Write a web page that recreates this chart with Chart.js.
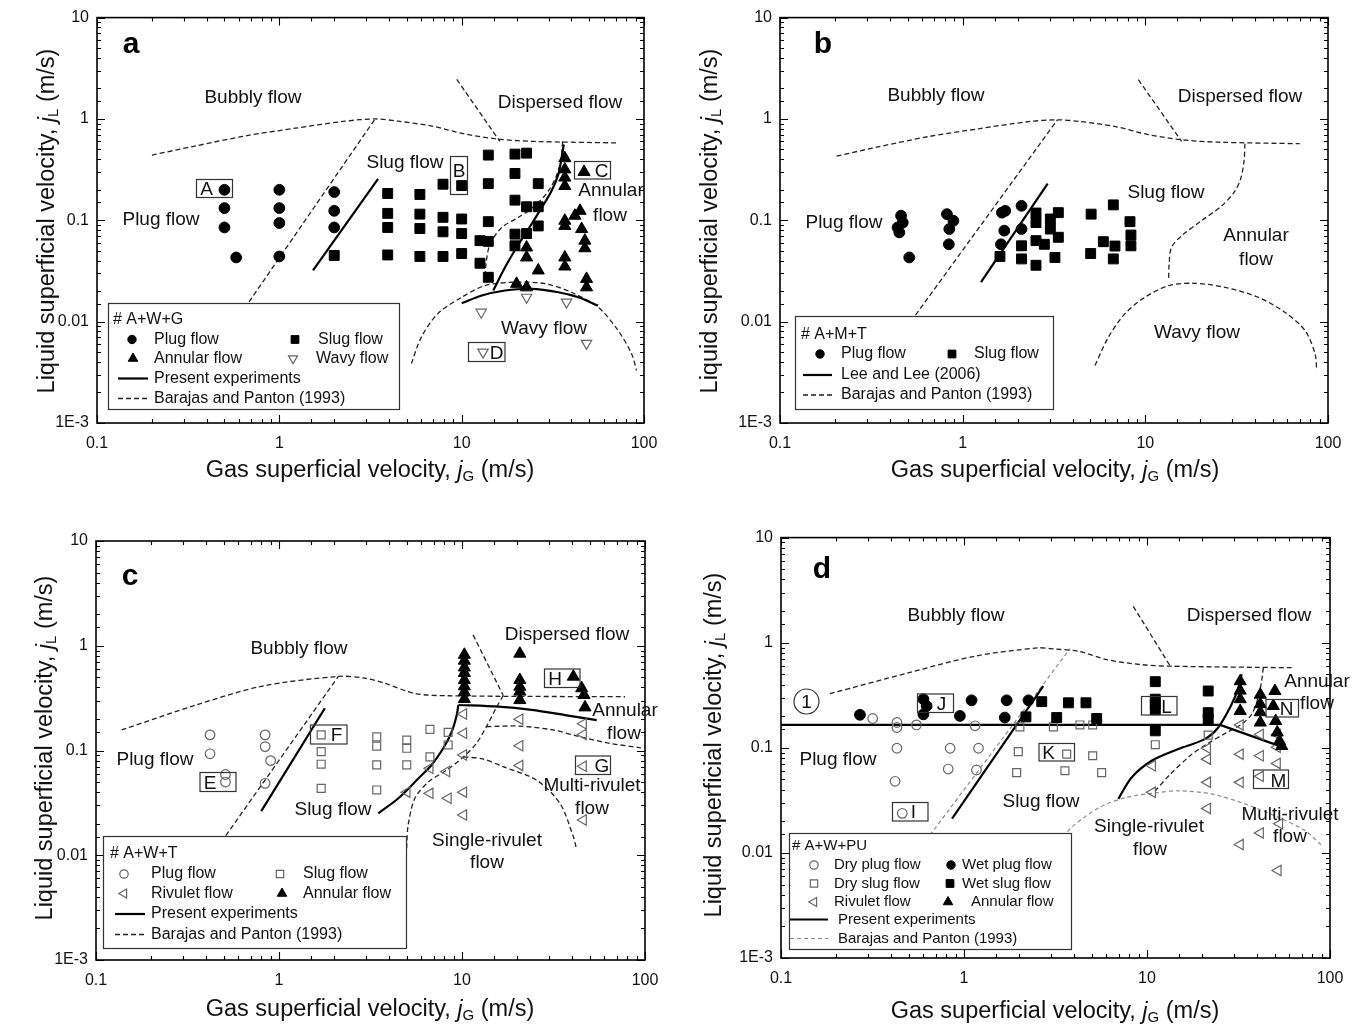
<!DOCTYPE html>
<html>
<head>
<meta charset="utf-8">
<title>Flow pattern maps</title>
<script src="https://cdn.jsdelivr.net/npm/chart.js@4.4.1/dist/chart.umd.min.js"></script>
<style>
  html, body { margin: 0; padding: 0; background: #fff; }
  #page { position: relative; width: 1359px; height: 1030px; overflow: hidden; background: #fff; }
  #page canvas { position: absolute; }
</style>
</head>
<body>
<div id="page">
  <canvas id="pa" width="680" height="505" style="left:0px;top:0px"></canvas>
  <canvas id="pb" width="679" height="505" style="left:680px;top:0px"></canvas>
  <canvas id="pc" width="680" height="510" style="left:0px;top:520px"></canvas>
  <canvas id="pd" width="679" height="510" style="left:680px;top:520px"></canvas>
</div>
<script>
const FONT = "'Liberation Sans', Arial, Helvetica, sans-serif";

// axis ticks
const xTickValues = [0.1, 1, 10, 100];
const xTickLabels = ['0.1', '1', '10', '100'];
const yTickValues = [0.001, 0.01, 0.1, 1, 10];
const yTickLabels = ['1E-3', '0.01', '0.1', '1', '10'];

// ---- panel a : A+W+G  [jG, jL]
const aPlug = [[0.5, 0.2], [0.5, 0.132], [0.5, 0.085], [0.58, 0.043], [1, 0.2], [1, 0.132], [1, 0.094], [1, 0.044],
  [2, 0.19], [2, 0.124], [2, 0.085]];
const aSlug = [[2, 0.045], [3.93, 0.184], [3.93, 0.117], [3.93, 0.085], [3.93, 0.0455], [5.9, 0.18], [5.9, 0.115],
  [5.9, 0.083], [5.9, 0.044], [7.9, 0.227], [7.9, 0.107], [7.9, 0.077], [7.9, 0.044], [10, 0.22], [10, 0.103],
  [10, 0.074], [10, 0.047], [12.6, 0.063], [12.6, 0.0377], [14, 0.44], [14, 0.23], [14, 0.097], [14, 0.062],
  [14, 0.0274], [19.6, 0.45], [19.6, 0.29], [19.6, 0.158], [19.6, 0.073], [19.6, 0.056], [22.7, 0.46],
  [22.7, 0.136], [22.7, 0.074], [26.3, 0.23], [26.3, 0.136], [26.3, 0.088]];
const aAnnular = [[22.7, 0.054], [22.7, 0.043], [20, 0.0236], [22.7, 0.0218], [26.3, 0.032], [36.8, 0.41],
  [36.8, 0.318], [36.8, 0.264], [36.8, 0.218], [36.8, 0.099], [36.8, 0.088], [41.8, 0.111], [44.6, 0.124],
  [45.5, 0.082], [47.4, 0.063], [47.4, 0.053], [36.8, 0.043], [36.8, 0.035], [48.4, 0.0264], [48.4, 0.0218],
  [46.9, 0.30]];
const aWavy = [[12.8, 0.0124], [22.7, 0.0174], [37.6, 0.0156], [48.4, 0.0061], [13.1, 0.0050]];
const aExpSlug = [[1.53, 0.032], [3.48, 0.256]];
const aExpAnnular = [[14.9, 0.0203], [17.3, 0.0344], [20.5, 0.058], [24.2, 0.092], [27.5, 0.134], [31.1, 0.195],
  [33.9, 0.284], [35.3, 0.41], [36.3, 0.56]];
const aExpWavy = [[10, 0.0152], [12.9, 0.0181], [17.3, 0.0203], [24.2, 0.0211], [33.9, 0.0195], [43.6, 0.0174],
  [56, 0.0144]];
const aBPBubbly = [[0.2, 0.44], [0.344, 0.54], [0.65, 0.68], [1.22, 0.81], [2.29, 0.95], [3.35, 1.0], [4.48, 0.95],
  [6.87, 0.85], [10.4, 0.71], [16.2, 0.63], [25, 0.60], [72, 0.58]];
const aBPPlug = [[0.574, 0.01], [3.35, 1.0]];
const aBPDispersed = [[9.4, 2.46], [16.2, 0.60]];
const aBPAnnular = [[35.8, 0.60], [35.1, 0.41], [33.2, 0.28], [29.9, 0.195], [25.2, 0.139], [20.5, 0.107],
  [16.6, 0.085], [14.3, 0.058], [13.6, 0.037], [13.4, 0.0245]];
const aBPWavy = [[5.3, 0.00386], [6.0, 0.0070], [7.4, 0.012], [10, 0.0174], [13.4, 0.0227], [19.6, 0.0245],
  [28.7, 0.0237], [40, 0.0195], [56, 0.0139], [72, 0.0082], [85.6, 0.0048], [91, 0.0033]];

// ---- panel b : A+M+T
const bPlug = [[0.46, 0.111], [0.47, 0.095], [0.44, 0.085], [0.45, 0.076], [0.51, 0.043], [0.82, 0.115],
  [0.89, 0.099], [0.845, 0.082], [0.84, 0.058], [1.64, 0.119], [1.71, 0.124], [2.1, 0.139], [1.69, 0.079],
  [2.1, 0.082], [1.62, 0.058]];
const bSlug = [[1.6, 0.044], [2.1, 0.056], [2.1, 0.0416], [2.52, 0.118], [2.52, 0.095], [2.52, 0.063], [2.8, 0.058],
  [2.52, 0.036], [3.02, 0.103], [3.02, 0.082], [3.2, 0.043], [3.34, 0.119], [3.34, 0.068], [5.05, 0.115],
  [6.68, 0.142], [5.89, 0.0615], [5.02, 0.047], [6.82, 0.0557], [6.68, 0.0416], [8.24, 0.097], [8.34, 0.0715],
  [8.34, 0.056]];
const bLeeLee = [[1.26, 0.0245], [2.92, 0.23]];
const bBPBubbly = [[0.204, 0.43], [0.344, 0.53], [0.65, 0.67], [1.22, 0.80], [2.29, 0.94], [3.3, 0.98],
  [4.48, 0.94], [6.87, 0.84], [10.4, 0.70], [16.2, 0.62], [25, 0.59], [70, 0.57]];
const bBPPlug = [[0.52, 0.01], [3.3, 0.98]];
const bBPDispersed = [[9.16, 2.44], [15.8, 0.60]];
const bBPAnnular = [[35.1, 0.57], [34.7, 0.385], [33.4, 0.264], [31, 0.195], [26.2, 0.139], [20.3, 0.099],
  [15.8, 0.0704], [13.9, 0.054], [13.5, 0.037], [13.4, 0.0254]];
const bBPWavy = [[5.3, 0.0037], [6.27, 0.0070], [7.74, 0.012], [9.96, 0.0174], [13.4, 0.0227], [18.7, 0.0239],
  [27.3, 0.0218], [41.5, 0.0174], [58, 0.0124], [74.8, 0.0082], [85, 0.0048], [86.7, 0.0033]];

// ---- panel c : A+W+T
const cPlug = [[0.42, 0.141], [0.42, 0.093], [0.51, 0.059], [0.51, 0.050], [0.84, 0.141], [0.84, 0.109],
  [0.90, 0.080], [0.84, 0.0486]];
const cSlug = [[1.70, 0.141], [1.70, 0.0975], [1.70, 0.074], [1.70, 0.0435], [3.42, 0.135], [3.42, 0.110],
  [3.42, 0.073], [3.42, 0.042], [4.99, 0.126], [4.99, 0.105], [4.99, 0.073], [6.68, 0.159], [6.68, 0.087],
  [8.4, 0.149], [8.4, 0.113]];
const cRivulet = [[5.0, 0.040], [6.68, 0.0676], [8.24, 0.063], [6.68, 0.039], [8.4, 0.035], [10.2, 0.223],
  [10.2, 0.146], [10.2, 0.0906], [10.2, 0.040], [10.2, 0.0242], [20.7, 0.199], [20.7, 0.111], [20.7, 0.072],
  [46, 0.18], [46, 0.142], [46, 0.0708], [46, 0.0217]];
const cAnnular = [[10.3, 0.82], [10.3, 0.72], [10.3, 0.62], [10.3, 0.55], [10.3, 0.47], [10.3, 0.41], [10.3, 0.36],
  [10.3, 0.31], [20.7, 0.84], [20.7, 0.471], [20.7, 0.406], [20.7, 0.365], [20.7, 0.303], [40.6, 0.507],
  [45.1, 0.393], [46.4, 0.339], [47, 0.258]];
const cExpSlug = [[0.80, 0.0264], [1.78, 0.253]];
const cExpRivulet = [[3.49, 0.0251], [4.49, 0.035], [5.77, 0.054], [6.82, 0.0728], [7.9, 0.105], [8.79, 0.151],
  [9.36, 0.218], [9.55, 0.272]];
const cExpAnnular = [[9.55, 0.272], [15.8, 0.262], [24, 0.244], [36.6, 0.218], [54.5, 0.195]];
const cBPBubbly = [[0.138, 0.157], [0.348, 0.27], [0.80, 0.41], [2.11, 0.51], [2.95, 0.49], [3.8, 0.437],
  [5.53, 0.35], [8.4, 0.333], [77.8, 0.326]];
const cBPPlug = [[0.43, 0.01], [2.11, 0.51]];
const cBPDispersed = [[11.5, 1.27], [16.8, 0.335]];
const cBPAnnular = [[16.8, 0.335], [15.5, 0.262], [13.6, 0.169], [12.0, 0.117], [10.2, 0.087], [8.24, 0.065],
  [6.55, 0.050], [5.53, 0.035], [5.08, 0.0195], [4.98, 0.0116]];
const cBPMulti = [[13.6, 0.169], [20.7, 0.171], [31.5, 0.157], [44.2, 0.135], [64.4, 0.117], [95, 0.106]];
const cBPSingle = [[10.2, 0.087], [13, 0.083], [16.8, 0.070], [25.6, 0.052], [34.4, 0.031], [40.6, 0.015],
  [42, 0.012]];

// ---- panel d : A+W+PU
const dDryPlug = [[0.317, 0.19], [0.43, 0.174], [0.43, 0.156], [0.55, 0.165], [0.43, 0.099], [0.42, 0.048],
  [0.84, 0.099], [0.82, 0.0628], [1.15, 0.162], [1.20, 0.099], [1.17, 0.0615], [0.46, 0.0238]];
const dWetPlug = [[0.27, 0.206], [0.60, 0.29], [0.625, 0.25], [0.60, 0.208], [0.95, 0.201], [1.10, 0.283],
  [1.71, 0.283], [1.67, 0.194], [2.25, 0.283]];
const dDrySlug = [[2.02, 0.158], [3.08, 0.158], [4.3, 0.165], [5.05, 0.165], [1.98, 0.092], [3.64, 0.087],
  [5.05, 0.084], [1.94, 0.058], [3.56, 0.0605], [5.65, 0.058], [11.1, 0.107], [21.6, 0.132]];
const dWetSlug = [[2.66, 0.275], [2.18, 0.197], [3.21, 0.194], [3.72, 0.268], [4.64, 0.268], [5.31, 0.19],
  [11.1, 0.426], [11.1, 0.29], [11.1, 0.26], [11.1, 0.23], [11.1, 0.145], [21.6, 0.347], [21.6, 0.216],
  [21.6, 0.187]];
const dRivulet = [[10.7, 0.0675], [10.7, 0.0377], [21.4, 0.099], [21.4, 0.078], [21.4, 0.0469], [21.4, 0.0265],
  [32.3, 0.165], [32.3, 0.087], [32.3, 0.0469], [32.3, 0.012], [41.6, 0.134], [41.6, 0.084], [41.6, 0.0535],
  [41.6, 0.0155], [51.5, 0.134], [51.5, 0.101], [51.5, 0.071], [53, 0.0189], [52, 0.0068]];
const dAnnular = [[32.3, 0.43], [32.3, 0.35], [32.3, 0.29], [32.3, 0.224], [41.6, 0.32], [41.6, 0.26],
  [41.6, 0.218], [41.6, 0.174], [50, 0.347], [49, 0.25], [50.5, 0.18], [51.5, 0.14], [53, 0.116], [54.5, 0.104]];
const dExpFlat = [[0.1, 0.165], [25.1, 0.165], [55.6, 0.101]];
const dExpSlug = [[0.86, 0.0212], [2.71, 0.387]];
const dExpAnnular = [[6.97, 0.0327], [8.24, 0.0522], [10.6, 0.0753], [14.8, 0.0973], [20.7, 0.121],
  [24.5, 0.156], [29.0, 0.259], [31.6, 0.373], [32.9, 0.50]];
const dBPBubbly = [[0.185, 0.327], [0.497, 0.517], [1.15, 0.745], [2.55, 0.893], [3.14, 0.87], [4.22, 0.83],
  [6.03, 0.69], [9.16, 0.62], [13.4, 0.598], [61.8, 0.578]];
const dBPDispersed = [[8.41, 2.22], [13.4, 0.598]];
const dBPAnnular = [[43.2, 0.578], [42.3, 0.432], [40.5, 0.30], [37.3, 0.208], [32.9, 0.168], [27.3, 0.14],
  [21.2, 0.108], [17.2, 0.084], [13.4, 0.056], [11.1, 0.039]];
const dBPPlug = [[0.5, 0.008], [3.8, 0.88]];
const dBPSingle = [[3.3, 0.0125], [3.88, 0.0176], [5.53, 0.0272], [7.74, 0.0338], [11.8, 0.0377], [14.8, 0.039],
  [22.5, 0.0364], [34.4, 0.0292], [52.2, 0.0218], [73, 0.0163], [90, 0.0118]];

// ---- styles
const MARK = {
  plug:    { shape: 'circle',   rot: 0,   r: 5.4, fill: '#000', stroke: '#000', lw: 1 },
  slug:    { shape: 'rect',     rot: 0,   r: 7,   fill: '#000', stroke: '#000', lw: 1 },
  annular: { shape: 'triangle', rot: 0,   r: 7,   fill: '#000', stroke: '#000', lw: 1 },
  wavy:    { shape: 'triangle', rot: 180, r: 6,   fill: 'rgba(0,0,0,0)', stroke: '#666', lw: 1.2 },
  oCircle: { shape: 'circle',   rot: 0,   r: 4.8, fill: 'rgba(0,0,0,0)', stroke: '#666', lw: 1.2 },
  oSquare: { shape: 'rect',     rot: 0,   r: 5.6, fill: 'rgba(0,0,0,0)', stroke: '#666', lw: 1.2 },
  oLeft:   { shape: 'triangle', rot: -90, r: 6,   fill: 'rgba(0,0,0,0)', stroke: '#666', lw: 1.2 }
};
const LINE = {
  solid: { color: '#000', width: 2.2, dash: [] },
  dash:  { color: '#222', width: 1.3, dash: [5, 3] },
  gdash: { color: '#8a8a8a', width: 1.2, dash: [4, 3] }
};

function pts(arr) {
  return arr.map(p => ({ x: p[0], y: p[1] }));
}

function markers(arr, key) {
  const s = MARK[key];
  return {
    data: pts(arr), showLine: false,
    pointStyle: s.shape, rotation: s.rot, pointRadius: s.r, pointHoverRadius: s.r,
    backgroundColor: s.fill, borderColor: s.stroke, borderWidth: s.lw
  };
}

function curve(arr, key, tension) {
  const s = LINE[key];
  return {
    data: pts(arr), showLine: true, pointRadius: 0, pointHoverRadius: 0,
    borderColor: s.color, borderWidth: s.width, borderDash: s.dash,
    tension: tension || 0, fill: false
  };
}

function tickText(v, values, labels) {
  for (let i = 0; i < values.length; i++) {
    if (Math.abs(Math.log10(v) - Math.log10(values[i])) < 1e-6) return labels[i];
  }
  return '';
}

function isDecade(v) {
  const l = Math.log10(v);
  return Math.abs(l - Math.round(l)) < 1e-6;
}

function drawMarker(ctx, s, x, y, r) {
  ctx.save();
  ctx.fillStyle = s.fill === 'rgba(0,0,0,0)' ? '#fff' : s.fill;
  ctx.strokeStyle = s.stroke;
  ctx.lineWidth = s.lw;
  ctx.beginPath();
  if (s.shape === 'circle') {
    ctx.arc(x, y, r, 0, Math.PI * 2);
  } else if (s.shape === 'rect') {
    const h = r * Math.SQRT1_2;
    ctx.rect(x - h, y - h, 2 * h, 2 * h);
  } else {
    let a = s.rot * Math.PI / 180;
    ctx.moveTo(x + Math.sin(a) * r, y - Math.cos(a) * r);
    for (let i = 0; i < 2; i++) {
      a += Math.PI * 2 / 3;
      ctx.lineTo(x + Math.sin(a) * r, y - Math.cos(a) * r);
    }
    ctx.closePath();
  }
  ctx.fill();
  ctx.stroke();
  ctx.restore();
}

// title with italic j and subscript
function drawAxisTitle(ctx, head, sub, x, y, vertical) {
  const big = '23.5px ' + FONT, ital = 'italic 23.5px ' + FONT, small = '15px ' + FONT;
  const parts = [[head, big, 0], ['j', ital, 0], [sub, small, 6], [' (m/s)', big, 0]];
  let total = 0;
  parts.forEach(p => { ctx.font = p[1]; total += ctx.measureText(p[0]).width; });
  ctx.save();
  ctx.translate(x, y);
  if (vertical) ctx.rotate(-Math.PI / 2);
  ctx.fillStyle = '#111';
  ctx.textBaseline = 'middle';
  ctx.textAlign = 'left';
  let cx = -total / 2;
  parts.forEach(p => {
    ctx.font = p[1];
    ctx.fillText(p[0], cx, p[2]);
    cx += ctx.measureText(p[0]).width;
  });
  ctx.restore();
}

function decorations(geo, deco) {
  return {
    id: 'decor',
    afterDraw(chart) {
      const ctx = chart.ctx;
      const area = chart.chartArea;
      const xs = chart.scales.x, ys = chart.scales.y;
      const ox = geo.cl, oy = geo.ct;
      ctx.save();

      // frame and inward ticks on all four sides
      ctx.strokeStyle = '#000';
      ctx.lineWidth = 1.6;
      ctx.strokeRect(area.left, area.top, area.right - area.left, area.bottom - area.top);
      ctx.lineWidth = 1.1;
      ctx.beginPath();
      xs.ticks.forEach(t => {
        const px = Math.round(xs.getPixelForValue(t.value)) + 0.5;
        const len = isDecade(t.value) ? 8 : 4;
        ctx.moveTo(px, area.bottom); ctx.lineTo(px, area.bottom - len);
        ctx.moveTo(px, area.top); ctx.lineTo(px, area.top + len);
      });
      ys.ticks.forEach(t => {
        const py = Math.round(ys.getPixelForValue(t.value)) + 0.5;
        const len = isDecade(t.value) ? 8 : 4;
        ctx.moveTo(area.left, py); ctx.lineTo(area.left + len, py);
        ctx.moveTo(area.right, py); ctx.lineTo(area.right - len, py);
      });
      ctx.stroke();

      // axis titles
      drawAxisTitle(ctx, 'Liquid superficial velocity, ', 'L', deco.yTitle[0] - ox, deco.yTitle[1] - oy, true);
      drawAxisTitle(ctx, 'Gas superficial velocity, ', 'G', deco.xTitle[0] - ox, deco.xTitle[1] - oy, false);

      // panel letter
      ctx.fillStyle = '#000';
      ctx.textAlign = 'center';
      ctx.textBaseline = 'middle';
      ctx.font = 'bold 30px ' + FONT;
      ctx.fillText(deco.letter[0], deco.letter[1] - ox, deco.letter[2] - oy);

      // region labels
      ctx.font = '19px ' + FONT;
      ctx.fillStyle = '#111';
      deco.regions.forEach(r => ctx.fillText(r[0], r[1] - ox, r[2] - oy));

      // boxed point labels
      ctx.font = '19px ' + FONT;
      ctx.strokeStyle = '#333';
      ctx.lineWidth = 1.2;
      deco.boxes.forEach(b => {
        ctx.strokeRect(b.rx - ox, b.ry - oy, b.rw, b.rh);
        ctx.fillText(b.t, b.tx - ox, b.ty - oy + 1);
      });

      // circled number
      if (deco.circled) {
        const c = deco.circled;
        ctx.beginPath();
        ctx.lineWidth = 1.2;
        ctx.arc(c.x - ox, c.y - oy, c.r, 0, Math.PI * 2);
        ctx.stroke();
        ctx.font = '19px ' + FONT;
        ctx.fillText(c.t, c.x - ox, c.y - oy + 1);
      }

      // legend
      const lg = deco.legend;
      ctx.fillStyle = '#fff';
      ctx.fillRect(lg.rect[0] - ox, lg.rect[1] - oy, lg.rect[2], lg.rect[3]);
      ctx.strokeStyle = '#333';
      ctx.lineWidth = 1.2;
      ctx.strokeRect(lg.rect[0] - ox, lg.rect[1] - oy, lg.rect[2], lg.rect[3]);
      ctx.font = lg.size + 'px ' + FONT;
      ctx.fillStyle = '#111';
      ctx.textAlign = 'left';
      ctx.fillText(lg.title[0], lg.title[1] - ox, lg.title[2] - oy);
      lg.items.forEach(it => {
        if (it.m) {
          drawMarker(ctx, MARK[it.m], it.x - ox, it.y - oy, lg.mr[it.m]);
        } else {
          const s = LINE[it.line];
          ctx.save();
          ctx.strokeStyle = s.color;
          ctx.lineWidth = s.width;
          ctx.setLineDash(s.dash);
          ctx.beginPath();
          ctx.moveTo(it.x1 - ox, it.y - oy);
          ctx.lineTo(it.x2 - ox, it.y - oy);
          ctx.stroke();
          ctx.restore();
        }
        ctx.font = lg.size + 'px ' + FONT;
        ctx.fillStyle = '#111';
        ctx.textAlign = 'left';
        ctx.fillText(it.t, it.tx - ox, it.y - oy);
      });
      ctx.restore();
    }
  };
}

function buildPanel(id, geo, datasets, deco) {
  const el = document.getElementById(id);
  const W = el.width, H = el.height;
  return new Chart(el, {
    type: 'scatter',
    data: { datasets: datasets },
    options: {
      responsive: false,
      animation: false,
      devicePixelRatio: 1,
      events: [],
      layout: { padding: { left: 0, top: geo.t - geo.ct, right: geo.cl + W - geo.r, bottom: 0 } },
      plugins: { legend: { display: false }, tooltip: { enabled: false } },
      scales: {
        x: {
          type: 'logarithmic', position: 'bottom', min: 0.1, max: 100,
          grid: { display: false, drawTicks: false },
          border: { display: false },
          ticks: {
            autoSkip: false, maxRotation: 0, padding: 11, color: '#111',
            font: { family: FONT, size: 16 },
            callback: v => tickText(v, xTickValues, xTickLabels)
          },
          afterFit: s => { s.height = geo.ct + H - geo.b; }
        },
        y: {
          type: 'logarithmic', position: 'left', min: 0.001, max: 10,
          grid: { display: false, drawTicks: false },
          border: { display: false },
          ticks: {
            autoSkip: false, padding: 8, color: '#111',
            font: { family: FONT, size: 16 },
            callback: v => tickText(v, yTickValues, yTickLabels)
          },
          afterFit: s => { s.width = geo.l - geo.cl; }
        }
      }
    },
    plugins: [decorations(geo, deco)]
  });
}

const LEG_R = { plug: 4.2, slug: 5.5, annular: 5.5, wavy: 5.2, oCircle: 4.2, oSquare: 5.2, oLeft: 5.2 };

// panel a
buildPanel('pa', { cl: 0, ct: 0, l: 97, t: 16, r: 644, b: 423 }, [
  markers(aPlug, 'plug'), markers(aSlug, 'slug'), markers(aAnnular, 'annular'), markers(aWavy, 'wavy'),
  curve(aExpSlug, 'solid'), curve(aExpAnnular, 'solid', 0.3), curve(aExpWavy, 'solid', 0.3),
  curve(aBPBubbly, 'dash', 0.3), curve(aBPPlug, 'dash'), curve(aBPDispersed, 'dash'),
  curve(aBPAnnular, 'dash', 0.3), curve(aBPWavy, 'dash', 0.3)
], {
  yTitle: [48, 221], xTitle: [370, 471], letter: ['a', 131, 45],
  regions: [['Bubbly flow', 253, 98], ['Dispersed flow', 560, 103], ['Slug flow', 405, 163],
    ['Annular', 611, 191], ['flow', 610, 216], ['Plug flow', 161, 220], ['Wavy flow', 544, 329]],
  boxes: [
    { t: 'A', rx: 196.5, ry: 179.5, rw: 36, rh: 18, tx: 206.5, ty: 189 },
    { t: 'B', rx: 450.5, ry: 156.5, rw: 17, rh: 38, tx: 459, ty: 171 },
    { t: 'C', rx: 574.5, ry: 161.5, rw: 36, rh: 17.5, tx: 601.5, ty: 171 },
    { t: 'D', rx: 468.5, ry: 342.5, rw: 36.5, rh: 19, tx: 496.5, ty: 352.5 }
  ],
  legend: {
    rect: [108.5, 303.5, 291, 106], size: 16, mr: LEG_R, title: ['# A+W+G', 113, 320],
    items: [
      { m: 'plug', x: 132, y: 339.5, tx: 154, t: 'Plug flow' },
      { m: 'slug', x: 295, y: 339.5, tx: 318, t: 'Slug flow' },
      { m: 'annular', x: 133, y: 358.5, tx: 154, t: 'Annular flow' },
      { m: 'wavy', x: 293, y: 358.5, tx: 316, t: 'Wavy flow' },
      { line: 'solid', x1: 118, x2: 148, y: 378.5, tx: 154, t: 'Present experiments' },
      { line: 'dash', x1: 118, x2: 148, y: 398.5, tx: 154, t: 'Barajas and Panton (1993)' }
    ]
  }
});

// panel b
buildPanel('pb', { cl: 680, ct: 0, l: 780, t: 16, r: 1328, b: 423 }, [
  markers(bPlug, 'plug'), markers(bSlug, 'slug'),
  curve(bLeeLee, 'solid'),
  curve(bBPBubbly, 'dash', 0.3), curve(bBPPlug, 'dash'), curve(bBPDispersed, 'dash'),
  curve(bBPAnnular, 'dash', 0.3), curve(bBPWavy, 'dash', 0.3)
], {
  yTitle: [711, 221], xTitle: [1055, 471], letter: ['b', 823, 45],
  regions: [['Bubbly flow', 936, 96], ['Dispersed flow', 1240, 97], ['Slug flow', 1166, 193],
    ['Plug flow', 844, 223], ['Annular', 1256, 236], ['flow', 1256, 260], ['Wavy flow', 1197, 333]],
  boxes: [],
  legend: {
    rect: [795.5, 316.5, 258, 93], size: 16, mr: LEG_R, title: ['# A+M+T', 801, 335],
    items: [
      { m: 'plug', x: 820, y: 354, tx: 841, t: 'Plug flow' },
      { m: 'slug', x: 952, y: 354, tx: 974, t: 'Slug flow' },
      { line: 'solid', x1: 803, x2: 832, y: 375, tx: 841, t: 'Lee and Lee (2006)' },
      { line: 'dash', x1: 803, x2: 832, y: 395, tx: 841, t: 'Barajas and Panton (1993)' }
    ]
  }
});

// panel c
buildPanel('pc', { cl: 0, ct: 520, l: 96, t: 541, r: 645, b: 960 }, [
  markers(cAnnular, 'annular'), markers(cPlug, 'oCircle'), markers(cSlug, 'oSquare'), markers(cRivulet, 'oLeft'),
  curve(cExpSlug, 'solid'), curve(cExpRivulet, 'solid', 0.3), curve(cExpAnnular, 'solid', 0.3),
  curve(cBPBubbly, 'dash', 0.3), curve(cBPPlug, 'dash'), curve(cBPDispersed, 'dash'),
  curve(cBPAnnular, 'dash', 0.3), curve(cBPMulti, 'dash', 0.3), curve(cBPSingle, 'dash', 0.3)
], {
  yTitle: [46, 748], xTitle: [370, 1010], letter: ['c', 130, 577],
  regions: [['Bubbly flow', 299, 649], ['Dispersed flow', 567, 635], ['Plug flow', 155, 760],
    ['Slug flow', 333, 810], ['Annular', 625, 711], ['flow', 624, 734], ['Multi-rivulet', 592, 786],
    ['flow', 592, 809], ['Single-rivulet', 487, 841], ['flow', 487, 863]],
  boxes: [
    { t: 'E', rx: 200, ry: 772.5, rw: 36, rh: 19, tx: 210, ty: 783 },
    { t: 'F', rx: 310.5, ry: 725, rw: 36.5, rh: 19, tx: 336.5, ty: 735 },
    { t: 'H', rx: 544.5, ry: 669, rw: 35.5, rh: 18.5, tx: 555, ty: 678.5 },
    { t: 'G', rx: 575.5, ry: 756, rw: 35, rh: 18.5, tx: 602, ty: 765.5 }
  ],
  legend: {
    rect: [103.5, 836.5, 303, 112], size: 16, mr: LEG_R, title: ['# A+W+T', 110, 854],
    items: [
      { m: 'oCircle', x: 124, y: 874, tx: 151, t: 'Plug flow' },
      { m: 'oSquare', x: 280, y: 874, tx: 303, t: 'Slug flow' },
      { m: 'oLeft', x: 124, y: 893.5, tx: 151, t: 'Rivulet flow' },
      { m: 'annular', x: 282, y: 893.5, tx: 303, t: 'Annular flow' },
      { line: 'solid', x1: 115, x2: 145, y: 914, tx: 151, t: 'Present experiments' },
      { line: 'dash', x1: 115, x2: 145, y: 934.5, tx: 151, t: 'Barajas and Panton (1993)' }
    ]
  }
});

// panel d
buildPanel('pd', { cl: 680, ct: 520, l: 781, t: 536, r: 1330, b: 958 }, [
  markers(dAnnular, 'annular'), markers(dWetPlug, 'plug'), markers(dWetSlug, 'slug'),
  markers(dDryPlug, 'oCircle'), markers(dDrySlug, 'oSquare'), markers(dRivulet, 'oLeft'),
  curve(dExpFlat, 'solid'), curve(dExpSlug, 'solid'), curve(dExpAnnular, 'solid', 0.3),
  curve(dBPBubbly, 'dash', 0.3), curve(dBPDispersed, 'dash'), curve(dBPAnnular, 'dash', 0.3),
  curve(dBPPlug, 'gdash'), curve(dBPSingle, 'gdash', 0.3)
], {
  yTitle: [715, 745], xTitle: [1055, 1012], letter: ['d', 822, 570],
  regions: [['Bubbly flow', 956, 616], ['Dispersed flow', 1249, 616], ['Annular', 1317, 682], ['flow', 1317, 704],
    ['Plug flow', 838, 760], ['Slug flow', 1041, 802], ['Single-rivulet', 1149, 827], ['flow', 1150, 850],
    ['Multi-rivulet', 1290, 815], ['flow', 1290, 837]],
  boxes: [
    { t: 'J', rx: 917.5, ry: 694, rw: 36, rh: 18.5, tx: 941.5, ty: 704 },
    { t: 'I', rx: 892.5, ry: 802.5, rw: 35.5, rh: 18.5, tx: 913.5, ty: 812 },
    { t: 'K', rx: 1039, ry: 743.5, rw: 35.5, rh: 17.5, tx: 1048.5, ty: 752.5 },
    { t: 'L', rx: 1141.5, ry: 696.5, rw: 35.5, rh: 18.5, tx: 1166.5, ty: 707 },
    { t: 'N', rx: 1266, ry: 699.5, rw: 32.5, rh: 17.5, tx: 1286.5, ty: 708.5 },
    { t: 'M', rx: 1253.5, ry: 770, rw: 35, rh: 18.5, tx: 1278.5, ty: 780.5 }
  ],
  circled: { t: '1', x: 806.5, y: 701.5, r: 12.5 },
  legend: {
    rect: [789.5, 833.5, 282, 116], size: 15, mr: LEG_R, title: ['# A+W+PU', 792, 846],
    items: [
      { m: 'oCircle', x: 814, y: 865, tx: 834, t: 'Dry plug flow' },
      { m: 'plug', x: 951, y: 865, tx: 962, t: 'Wet plug flow' },
      { m: 'oSquare', x: 814, y: 883.5, tx: 834, t: 'Dry slug flow' },
      { m: 'slug', x: 950, y: 883.5, tx: 962, t: 'Wet slug flow' },
      { m: 'oLeft', x: 814, y: 902, tx: 834, t: 'Rivulet flow' },
      { m: 'annular', x: 948, y: 902, tx: 971, t: 'Annular flow' },
      { line: 'solid', x1: 790, x2: 828, y: 919.5, tx: 838, t: 'Present experiments' },
      { line: 'gdash', x1: 790, x2: 828, y: 938.5, tx: 838, t: 'Barajas and Panton (1993)' }
    ]
  }
});
</script>
</body>
</html>
